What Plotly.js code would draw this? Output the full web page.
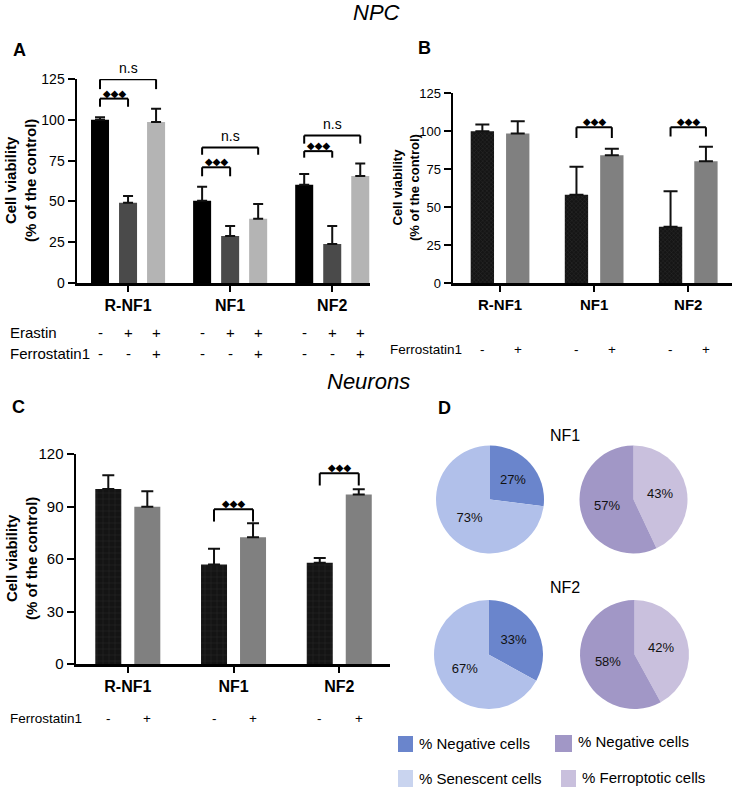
<!DOCTYPE html>
<html><head><meta charset="utf-8">
<script src="https://cdn.plot.ly/plotly-3.0.1.min.js"></script>
<style>html,body{margin:0;padding:0;background:#fff}#chart{width:738px;height:791px}</style>
</head><body><div id="chart"></div>
<script>
const groups = ['R-NF1', 'NF1', 'NF2'];

// Panel A (NPC): control, erastin, erastin + ferrostatin1
const aControl = [100, 50.4, 60.2];
const aControlErr = [1.5, 8.6, 6.6];
const aErastin = [49.2, 28.8, 23.9];
const aErastinErr = [4.1, 6.1, 11.0];
const aErastinFerro = [98.6, 39.4, 65.6];
const aErastinFerroErr = [8.2, 9.0, 7.7];
const aErastinSigns = ['-', '+', '+'];
const aFerroSigns = ['-', '-', '+'];
const aTicks = [0, 25, 50, 75, 100, 125];

// Panel B (NPC): control vs ferrostatin1
const bControl = [100, 58.3, 37.2];
const bControlErr = [4.5, 18.4, 23.3];
const bFerro = [98.5, 84.2, 80.3];
const bFerroErr = [8.1, 4.4, 9.6];
const bFerroSigns = ['-', '+'];
const bTicks = [0, 25, 50, 75, 100, 125];

// Panel C (Neurons): control vs ferrostatin1
const cControl = [100, 56.8, 57.9];
const cControlErr = [7.8, 9.1, 2.7];
const cFerro = [89.9, 72.4, 96.8];
const cFerroErr = [8.8, 8.0, 3.0];
const cFerroSigns = ['-', '+'];
const cTicks = [0, 30, 60, 90, 120];

// Significance brackets: [group, fromBar, toBar, height, drop, label]
const aBrackets = [[0,0,1,113,5,'◆◆◆'],[0,0,2,124.8,6,'n.s'],[1,0,1,70.9,5.5,'◆◆◆'],[1,0,2,83.1,4.5,'n.s'],[2,0,1,80.8,4,'◆◆◆'],[2,0,2,90.4,5,'n.s']];
const bBrackets = [[1,0,1,102.6,7,'◆◆◆'],[2,0,1,102.6,6,'◆◆◆']];
const cBrackets = [[1,0,1,88.4,7,'◆◆◆'],[2,0,1,109,7,'◆◆◆']];

// Panel D pies
const senLabels = ['% Negative cells', '% Senescent cells'];
const ferroLabels = ['% Ferroptotic cells', '% Negative cells'];
const nf1Sen = [27, 73];
const nf1Ferro = [43, 57];
const nf2Sen = [33, 67];
const nf2Ferro = [42, 58];

// ---------- layout helpers ----------
const W = 738, H = 791;
const px = x => x / W;
const py = y => 1 - y / H;
const FONT = 'Liberation Sans, Arial, sans-serif';

const traces = [];
const shapes = [];
const annotations = [];

function note(o) {
  annotations.push(Object.assign({ xref: 'paper', yref: 'paper', xanchor: 'center', yanchor: 'middle', showarrow: false }, o));
}
function center(n, i, slot) { return (i - (n - 1) / 2) * slot; }

function addPanel(cfg) {
  const n = cfg.series.length;
  cfg.series.forEach((vals, i) => {
    const t = {
      type: 'bar', x: groups, y: vals, xaxis: cfg.x, yaxis: cfg.y,
      width: cfg.barW, offset: center(n, i, cfg.slot) - cfg.barW / 2,
      marker: { color: cfg.colors[i], line: { width: 0 } },
      error_y: { type: 'data', symmetric: false, array: cfg.errs[i], arrayminus: vals.map(() => 0),
                 color: '#111', thickness: 2, width: cfg.capW },
      showlegend: false, hoverinfo: 'skip'
    };
    if (cfg.patterns && cfg.patterns[i]) t.marker.pattern = cfg.patterns[i];
    traces.push(t);
  });
  cfg.brackets.forEach(b => {
    const [g, f, to, h, d, lab] = b;
    const x0 = g + center(n, f, cfg.slot), x1 = g + center(n, to, cfg.slot);
    const ln = { color: '#000', width: 2 };
    shapes.push({ type: 'line', xref: cfg.x, yref: cfg.y, x0: x0, x1: x1, y0: h, y1: h, line: ln });
    shapes.push({ type: 'line', xref: cfg.x, yref: cfg.y, x0: x0, x1: x0, y0: h - d, y1: h, line: ln });
    shapes.push({ type: 'line', xref: cfg.x, yref: cfg.y, x0: x1, x1: x1, y0: h - d, y1: h, line: ln });
    const isNs = lab === 'n.s';
    note({ xref: cfg.x, yref: cfg.y, x: (x0 + x1) / 2, y: h, yanchor: 'bottom', yshift: isNs ? 1 : -2,
      text: lab,
      font: isNs ? { family: FONT, size: 14, color: '#000' } : { family: 'DejaVu Sans', size: 10, color: '#000' } });
  });
  cfg.signRows.forEach(row => {
    note({ x: px(row.labelX), y: py(row.y), xanchor: 'left',
      text: row.label, font: { family: FONT, size: row.size, color: '#000' } });
    groups.forEach((g, gi) => {
      row.signs.forEach((s, i) => {
        note({ xref: cfg.x, x: gi + center(n, i, cfg.slot), y: py(row.y),
          text: s, font: { family: FONT, size: row.size, color: '#000' } });
      });
    });
  });
  note({ x: px(cfg.titleX), y: py(cfg.titleY), textangle: -90,
    text: 'Cell viability<br>(% of the control)',
    font: { family: FONT, size: cfg.titleSize, color: '#000', weight: 'bold' } });
}

addPanel({ x: 'x', y: 'y', series: [aControl, aErastin, aErastinFerro], errs: [aControlErr, aErastinErr, aErastinFerroErr],
  colors: ['#000000', '#4a4a4a', '#b4b4b4'], slot: 0.2745, barW: 0.1765, capW: 5, brackets: aBrackets,
  signRows: [{ label: 'Erastin', labelX: 8, y: 332, signs: aErastinSigns, size: 15 },
             { label: 'Ferrostatin1', labelX: 8, y: 353, signs: aFerroSigns, size: 15 }],
  titleX: 21, titleY: 181, titleSize: 15 });

addPanel({ x: 'x2', y: 'y2', series: [bControl, bFerro], errs: [bControlErr, bFerroErr],
  colors: ['#1c1c1c', '#808080'],
  patterns: [{ shape: 'x', fgcolor: '#404040', bgcolor: '#151515', fillmode: 'overlay', size: 3, solidity: 0.3 }, null],
  slot: 0.376, barW: 0.248, capW: 7, brackets: bBrackets,
  signRows: [{ label: 'Ferrostatin1', labelX: 388, y: 349, signs: bFerroSigns, size: 13.5 }],
  titleX: 406, titleY: 188, titleSize: 13 });

addPanel({ x: 'x3', y: 'y3', series: [cControl, cFerro], errs: [cControlErr, cFerroErr],
  colors: ['#1a1a1a', '#808080'],
  patterns: [{ shape: '+', fgcolor: '#3c3c3c', bgcolor: '#141414', fillmode: 'overlay', size: 6, solidity: 0.15 }, null],
  slot: 0.369, barW: 0.246, capW: 6, brackets: cBrackets,
  signRows: [{ label: 'Ferrostatin1', labelX: 8, y: 718, signs: cFerroSigns, size: 13.5 }],
  titleX: 21, titleY: 559, titleSize: 15 });

// Pies
const darkBlue = '#6a85cc', lightBlue = '#b1c0ea', purple = '#a197c6', lightPurple = '#c9c0dd';
function pie(vals, labels, colors, cx, cy, r) {
  traces.push({ type: 'pie', values: vals, labels: labels, sort: false, direction: 'clockwise', rotation: 0,
    marker: { colors: colors, line: { width: 0 } },
    texttemplate: '%{value}%', textposition: 'inside', insidetextorientation: 'horizontal',
    textfont: { family: FONT, size: 13, color: '#111' },
    domain: { x: [px(cx - r), px(cx + r)], y: [py(cy + r), py(cy - r)] },
    showlegend: false, hoverinfo: 'skip' });
}
pie(nf1Sen, senLabels, [darkBlue, lightBlue], 490, 499.5, 54);
pie(nf1Ferro, ferroLabels, [lightPurple, purple], 633.5, 499.5, 54);
pie(nf2Sen, senLabels, [darkBlue, lightBlue], 488.5, 654.5, 54.5);
pie(nf2Ferro, ferroLabels, [lightPurple, purple], 634.5, 654.5, 54.5);

note({ x: px(565), y: py(435), text: 'NF1', font: { family: FONT, size: 16, color: '#000' } });
note({ x: px(565), y: py(587), text: 'NF2', font: { family: FONT, size: 16, color: '#000' } });

// Manual legend for panel D
const legendItems = [
  { color: darkBlue, x0: 398, x1: 413, y0: 736, y1: 752, text: senLabels[0], tx: 417, ty: 743 },
  { color: purple, x0: 555, x1: 572, y0: 735, y1: 752, text: ferroLabels[1], tx: 576, ty: 741 },
  { color: '#c9d4ef', x0: 398, x1: 413, y0: 770, y1: 787, text: senLabels[1], tx: 417, ty: 778 },
  { color: lightPurple, x0: 561, x1: 576, y0: 770, y1: 787, text: ferroLabels[0], tx: 580, ty: 777 }
];
legendItems.forEach(it => {
  shapes.push({ type: 'rect', xref: 'paper', yref: 'paper', x0: px(it.x0), x1: px(it.x1), y0: py(it.y1), y1: py(it.y0),
    fillcolor: it.color, line: { width: 0 } });
  note({ x: px(it.tx), y: py(it.ty), xanchor: 'left', text: it.text, font: { family: FONT, size: 15, color: '#000' } });
});

// Titles & panel letters
note({ x: px(377), y: py(13), text: 'NPC', font: { family: FONT, size: 22, color: '#000', style: 'italic' } });
note({ x: px(368), y: py(381), text: 'Neurons', font: { family: FONT, size: 22, color: '#000', style: 'italic' } });
[['A', 19, 50], ['B', 424, 48], ['C', 18, 407], ['D', 444, 408]].forEach(l => {
  note({ x: px(l[1]), y: py(l[2]), text: l[0], font: { family: FONT, size: 18, color: '#000', weight: 'bold' } });
});

function xAxis(domain, anchor, range, size) {
  return { domain: domain, anchor: anchor, type: 'category', range: range, showline: true, linewidth: 2.5, linecolor: '#000',
    ticks: 'outside', ticklen: 6, tickwidth: 2, tickcolor: '#000', showgrid: false, zeroline: false, fixedrange: true,
    tickfont: { family: FONT, size: size, color: '#000', weight: 'bold' } };
}
function yAxis(domain, anchor, range, tickvals, size) {
  return { domain: domain, anchor: anchor, range: range, tickvals: tickvals, showline: true, linewidth: 2.5, linecolor: '#000',
    ticks: 'outside', ticklen: 7, tickwidth: 2, tickcolor: '#000', showgrid: false, zeroline: false, fixedrange: true,
    tickfont: { family: FONT, size: size, color: '#000' } };
}

const layout = {
  width: W, height: H, margin: { l: 0, r: 0, t: 0, b: 0 }, paper_bgcolor: '#fff', plot_bgcolor: 'rgba(0,0,0,0)',
  barmode: 'overlay', showlegend: false,
  xaxis: xAxis([px(77), px(370)], 'y', [-0.5, 2.37], 16),
  yaxis: yAxis([py(283), py(79)], 'x', [0, 125.01], aTicks, 14),
  xaxis2: xAxis([px(453), px(732)], 'y2', [-0.5, 2.465], 15),
  yaxis2: yAxis([py(283.3), py(93.3)], 'x2', [0, 125.01], bTicks, 13),
  xaxis3: xAxis([px(76), px(390)], 'y3', [-0.49, 2.48], 16),
  yaxis3: yAxis([py(664), py(454)], 'x3', [0, 120.01], cTicks, 15),
  shapes: shapes, annotations: annotations
};

Plotly.newPlot('chart', traces, layout, { staticPlot: true });
</script></body></html>
